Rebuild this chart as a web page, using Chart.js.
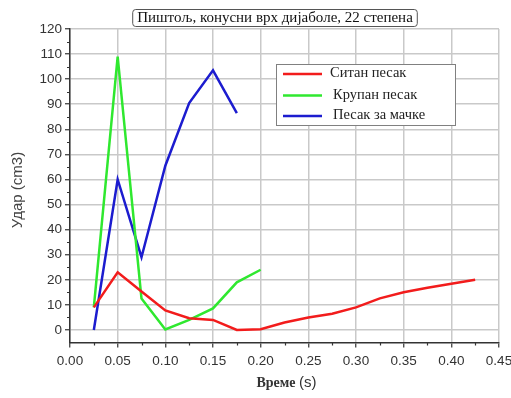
<!DOCTYPE html>
<html>
<head>
<meta charset="utf-8">
<script src="https://cdn.jsdelivr.net/npm/chart.js@4/dist/chart.umd.min.js"></script>
<style>
  html, body { margin: 0; padding: 0; background: #ffffff; }
  #wrap { width: 511px; height: 398px; position: relative; }
</style>
</head>
<body>
<div id="wrap"><canvas id="c"></canvas></div>
<script>
// Sample times (s) for each series
const timeFine = [0.025, 0.05, 0.075, 0.1, 0.125, 0.15, 0.175, 0.2, 0.225, 0.25, 0.275, 0.3, 0.325, 0.35, 0.375, 0.4, 0.425];
const timeCoarse = [0.025, 0.05, 0.075, 0.1, 0.125, 0.15, 0.175, 0.2];
const timeLitter = [0.025, 0.05, 0.075, 0.1, 0.125, 0.15, 0.175];

// Impact volume (cm3)
const fineSand = [9, 23, 15.3, 7.8, 4.7, 4, 0, 0.3, 3, 5, 6.5, 9, 12.6, 15, 16.8, 18.4, 20];
const coarseSand = [9, 109, 12.5, 0.2, 4, 8.6, 19, 24];
const litterSand = [0, 60, 29, 65.5, 90.5, 103.5, 86.5];

const seriesNames = ['Ситан песак', 'Крупан песак', 'Песак за мачке'];
const seriesColors = ['#f21c1c', '#2fe82f', '#1c1ccf'];

const chartTitle = 'Пиштољ, конусни врх дијаболе, 22 степена';
const xTitleWord = 'Време';
const xTitleUnit = '(s)';
const yTitle = 'Удар (cm3)';

const xTicks = [0, 0.05, 0.1, 0.15, 0.2, 0.25, 0.3, 0.35, 0.4, 0.45];
const yTicks = [0, 10, 20, 30, 40, 50, 60, 70, 80, 90, 100, 110, 120];
const xMinorTicks = [0.025, 0.075, 0.125, 0.175, 0.225, 0.275, 0.325, 0.375, 0.425];
const yMinorTicks = [5, 15, 25, 35, 45, 55, 65, 75, 85, 95, 105, 115];

const pairs = (xs, ys) => xs.map((x, i) => ({ x: x, y: ys[i] }));

const axisColor = '#333333';
const gridColor = '#c9c9c9';

// Title box, custom legend, axis titles and minor ticks
const decor = {
  id: 'decor',
  afterDraw(chart) {
    const ctx = chart.ctx;
    const area = chart.chartArea;
    const xs = chart.scales.x, ys = chart.scales.y;
    ctx.save();

    // minor ticks
    ctx.strokeStyle = axisColor;
    ctx.lineWidth = 1.2;
    ctx.beginPath();
    yMinorTicks.forEach(v => {
      const py = Math.round(ys.getPixelForValue(v)) + 0.5;
      ctx.moveTo(area.left, py); ctx.lineTo(area.left - 3, py);
    });
    xMinorTicks.forEach(v => {
      const px = Math.round(xs.getPixelForValue(v)) + 0.5;
      ctx.moveTo(px, area.bottom); ctx.lineTo(px, area.bottom + 3);
    });
    ctx.stroke();

    // chart title in a rounded box
    ctx.font = '15px "Liberation Serif", "DejaVu Serif", serif';
    ctx.fillStyle = '#111';
    ctx.textAlign = 'center';
    ctx.textBaseline = 'middle';
    const tx = 275, ty = 18.5;
    const tw = ctx.measureText(chartTitle).width;
    ctx.fillText(chartTitle, tx, ty);
    ctx.strokeStyle = '#555';
    ctx.lineWidth = 1;
    ctx.beginPath();
    ctx.roundRect(tx - tw / 2 - 4.5, 9.5, tw + 9, 17, 3);
    ctx.stroke();

    // x title
    ctx.textBaseline = 'middle';
    ctx.textAlign = 'left';
    const serifFont = 'bold 14px "Liberation Serif", serif';
    const sansFont = '15px "Liberation Sans", Arial, sans-serif';
    ctx.font = serifFont;
    const w1 = ctx.measureText(xTitleWord + ' ').width;
    ctx.font = sansFont;
    const w2 = ctx.measureText(xTitleUnit).width;
    const cx = (area.left + area.right) / 2 + 2;
    let sx = cx - (w1 + w2) / 2;
    ctx.fillStyle = '#333';
    ctx.font = serifFont;
    ctx.fillText(xTitleWord, sx, 383);
    ctx.font = sansFont;
    ctx.fillText(xTitleUnit, sx + w1, 383);

    // y title
    ctx.save();
    ctx.translate(18, 190);
    ctx.rotate(-Math.PI / 2);
    ctx.textAlign = 'center';
    ctx.font = '15px "Liberation Sans", Arial, sans-serif';
    ctx.fillStyle = '#444';
    ctx.fillText(yTitle, 0, 0);
    ctx.restore();

    // legend
    const lx = 276.5, ly = 64.5, lw = 179, lh = 61;
    ctx.fillStyle = '#ffffff';
    ctx.fillRect(lx, ly, lw, lh);
    ctx.strokeStyle = '#808080';
    ctx.lineWidth = 1;
    ctx.strokeRect(lx, ly, lw, lh);
    const rows = [74, 95.5, 116];
    const textX = [330, 333, 333];
    ctx.font = '14.5px "Liberation Serif", serif';
    ctx.textAlign = 'left';
    ctx.textBaseline = 'middle';
    chart.data.datasets.forEach((ds, i) => {
      ctx.strokeStyle = ds.borderColor;
      ctx.lineWidth = 2.5;
      ctx.beginPath();
      ctx.moveTo(283, rows[i]); ctx.lineTo(322, rows[i]);
      ctx.stroke();
      ctx.fillStyle = '#222';
      ctx.fillText(ds.label, textX[i], rows[i] - 0.5);
    });

    ctx.restore();
  }
};

new Chart(document.getElementById('c'), {
  type: 'line',
  data: {
    datasets: [
      { label: seriesNames[0], data: pairs(timeFine, fineSand), borderColor: seriesColors[0] },
      { label: seriesNames[1], data: pairs(timeCoarse, coarseSand), borderColor: seriesColors[1] },
      { label: seriesNames[2], data: pairs(timeLitter, litterSand), borderColor: seriesColors[2] }
    ]
  },
  options: {
    responsive: true,
    maintainAspectRatio: false,
    animation: false,
    devicePixelRatio: 1,
    layout: { padding: { top: 29, right: 0, bottom: 0, left: 0 } },
    elements: {
      line: { borderWidth: 2.5, tension: 0, fill: false },
      point: { radius: 0 }
    },
    plugins: { legend: { display: false }, title: { display: false }, tooltip: { enabled: false } },
    scales: {
      x: {
        type: 'linear',
        min: 0, max: 0.45,
        afterBuildTicks: s => { s.ticks = xTicks.map(v => ({ value: v })); },
        afterFit: s => { s.height = 55.5; s.paddingLeft = 0; s.paddingRight = 12; },
        ticks: {
          color: '#333',
          font: { family: '"Liberation Sans", Arial, sans-serif', size: 13.5 },
          padding: 6,
          maxRotation: 0,
          callback: v => Number(v).toFixed(2)
        },
        grid: { color: gridColor, lineWidth: 1.5, tickColor: axisColor, tickLength: 5, tickWidth: 1.2 },
        border: { color: axisColor, width: 1.5 }
      },
      y: {
        min: -5, max: 120,
        afterBuildTicks: s => { s.ticks = yTicks.map(v => ({ value: v })); },
        afterFit: s => { s.width = 70; s.paddingTop = 0; s.paddingBottom = 0; },
        ticks: {
          color: '#333',
          font: { family: '"Liberation Sans", Arial, sans-serif', size: 13.5 },
          padding: 3,
          callback: v => String(v)
        },
        grid: { color: gridColor, lineWidth: 1.5, tickColor: axisColor, tickLength: 5, tickWidth: 1.2 },
        border: { color: axisColor, width: 1.5 }
      }
    }
  },
  plugins: [decor]
});
</script>
</body>
</html>
